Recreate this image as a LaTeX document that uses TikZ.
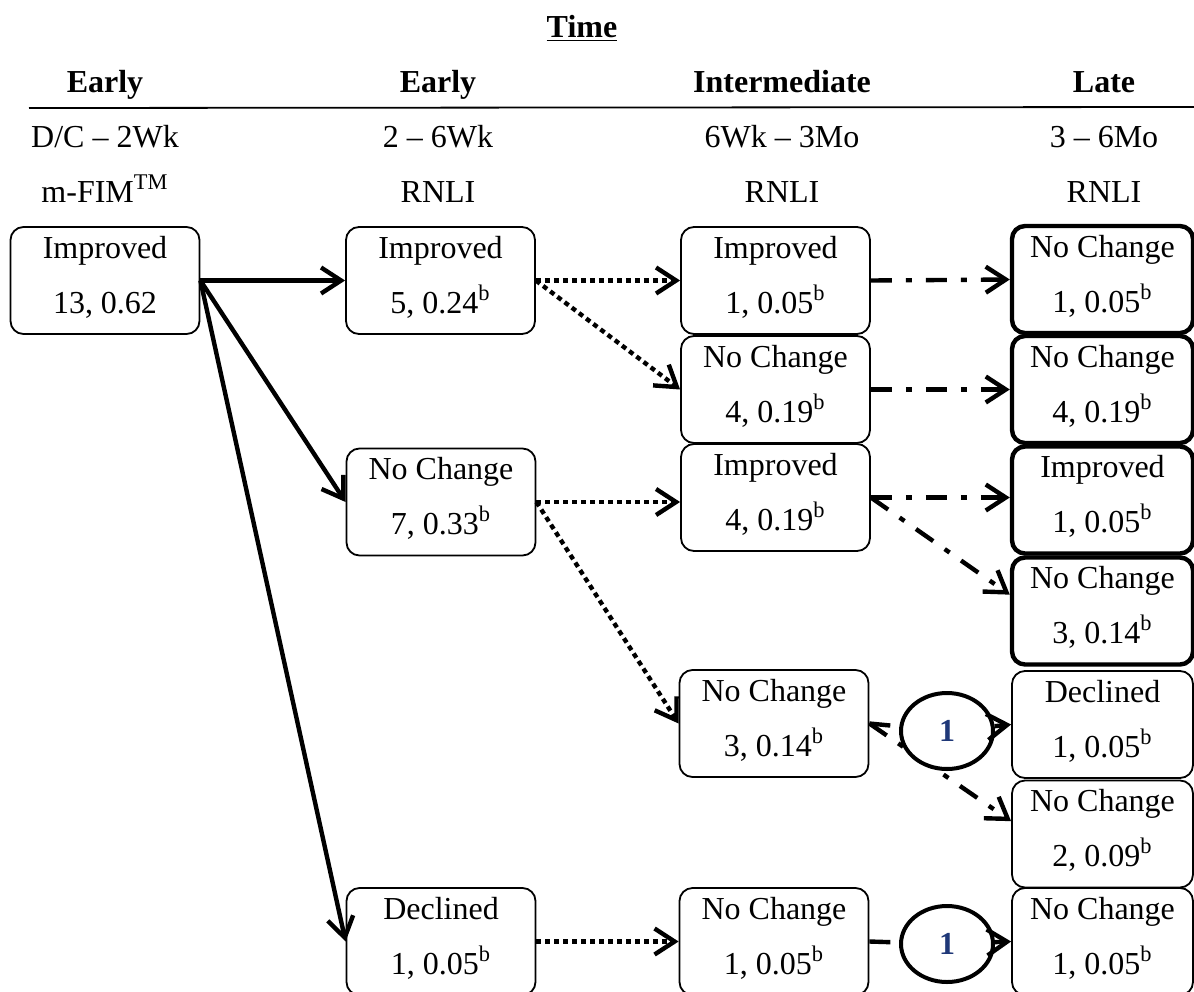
\documentclass[tikz,border=0pt]{standalone}
\usepackage{fontspec}
\setmainfont{Liberation Serif}
\usetikzlibrary{arrows.meta,shapes.geometric}
\definecolor{navy}{RGB}{31,56,120}

\begin{document}
\begin{tikzpicture}[x=0.5pt,y=0.5pt,yscale=-1,
		every node/.style={font=\fontsize{16pt}{27.5pt}\selectfont},
		>={Straight Barb[length=10pt,width=13pt]},
		state/.style={draw, rounded corners=6.5pt, line width=0.9pt, align=center,
			minimum width=94.5pt, inner xsep=0pt, inner ysep=0pt,
			text height=43pt, text depth=10.5pt},
		late/.style={state, minimum width=90.5pt},
		lateheavy/.style={late, line width=2.2pt},
		hdr/.style={anchor=base, inner sep=0pt},
		solidarr/.style={->, line width=2.2pt},
		dotarr/.style={->, line width=2.2pt, dash pattern=on 2.5pt off 2pt},
		dashline/.style={line width=2.2pt, dash pattern=on 10.5pt off 7pt on 3pt off 7pt},
		dasharr/.style={dashline, ->},
		count/.style={ellipse, draw, line width=2pt, fill=white, minimum width=46pt,
			minimum height=38pt, inner sep=0pt, text=navy,
			font=\fontsize{16pt}{18pt}\selectfont\bfseries}]
		\useasboundingbox (0,0) rectangle (1194,991);

		% Draw the title and the column headings
		\node[hdr] (time) at (582,37) {\textbf{\underline{Time}}};
		\node[hdr] (hdA) at (105,92) {\textbf{Early}};
		\node[hdr] (hdB) at (438,92) {\textbf{Early}};
		\node[hdr] (hdC) at (782,92) {\textbf{Intermediate}};
		\node[hdr] (hdD) at (1104,92) {\textbf{Late}};

		% Draw the rule under the headings
		\draw[line width=0.9pt] (29,108) -- (1194,107);

		% The time windows and the measures
		\node[hdr] (winA) at (105,147) {D/C -- 2Wk};
		\node[hdr] (winB) at (438,147) {2 -- 6Wk};
		\node[hdr] (winC) at (782,147) {6Wk -- 3Mo};
		\node[hdr] (winD) at (1104,147) {3 -- 6Mo};
		\node[hdr] (msA) at (105,202) {m-FIM\textsuperscript{TM}};
		\node[hdr] (msB) at (438,202) {RNLI};
		\node[hdr] (msC) at (782,202) {RNLI};
		\node[hdr] (msD) at (1104,202) {RNLI};

		% The boxes of the first two columns
		\node[state] (imp1) at (105,280.5) {Improved\\13, 0.62};
		\node[state] (imp2) at (440.5,280.5) {Improved\\5, 0.24\textsuperscript{b}};
		\node[state] (nc2) at (441,502) {No Change\\7, 0.33\textsuperscript{b}};
		\node[state] (dec2) at (441,941.5) {Declined\\1, 0.05\textsuperscript{b}};

		% The boxes of the intermediate column
		\node[state] (imp3a) at (775.5,280.5) {Improved\\1, 0.05\textsuperscript{b}};
		\node[state] (nc3a) at (775.5,389.5) {No Change\\4, 0.19\textsuperscript{b}};
		\node[state] (imp3b) at (775.5,497.5) {Improved\\4, 0.19\textsuperscript{b}};
		\node[state] (nc3b) at (774,723.5) {No Change\\3, 0.14\textsuperscript{b}};
		\node[state] (nc3c) at (774,941.5) {No Change\\1, 0.05\textsuperscript{b}};

		% The boxes of the late column (heavy border for the first four)
		\node[lateheavy] (late1) at (1102.5,279.5) {No Change\\1, 0.05\textsuperscript{b}};
		\node[lateheavy] (late2) at (1102.5,389.5) {No Change\\4, 0.19\textsuperscript{b}};
		\node[lateheavy] (late3) at (1102.5,500) {Improved\\1, 0.05\textsuperscript{b}};
		\node[lateheavy] (late4) at (1102.5,611) {No Change\\3, 0.14\textsuperscript{b}};
		\node[late] (late5) at (1102.5,724.5) {Declined\\1, 0.05\textsuperscript{b}};
		\node[late] (late6) at (1102.5,834) {No Change\\2, 0.09\textsuperscript{b}};
		\node[late] (late7) at (1102.5,941.5) {No Change\\1, 0.05\textsuperscript{b}};

		% Solid arrows out of the first box
		\draw[solidarr] (imp1.east) -- (imp2.west);
		\draw[solidarr] (imp1.east) -- (nc2.west);
		\draw[solidarr] (imp1.east) -- (dec2.west);

		% Dotted arrows into the intermediate column
		\draw[dotarr] (imp2.east) -- (imp3a.west);
		\draw[dotarr] (imp2.east) -- (nc3a.west);
		\draw[dotarr] (nc2.east) -- (nc2.east -| imp3b.west);
		\draw[dotarr] (nc2.east) -- (nc3b.west);
		\draw[dotarr] (dec2.east) -- (nc3c.west);

		% Dash-dot arrows into the late column
		\draw[dasharr] (imp3a.east) -- (late1.west);
		\draw[dasharr] (nc3a.east) -- (late2.west);
		\draw[dasharr] (imp3b.east) -- (imp3b.east -| late3.west);
		\draw[dasharr] (imp3b.east) -- (late4.170);
		\draw[dasharr] (nc3b.east) -- (late6.172);

		% The circled counts on the last two paths
		\node[count] (one1) at (947,731) {1};
		\node[count] (one2) at (947,944) {1};
		\draw[dashline] (nc3b.east) -- (one1);
		\draw[dasharr] (one1) -- (late5.west);
		\draw[dashline] (nc3c.east) -- (one2);
		\draw[dasharr] (one2) -- (late7.west);
	\end{tikzpicture}
\end{document}
